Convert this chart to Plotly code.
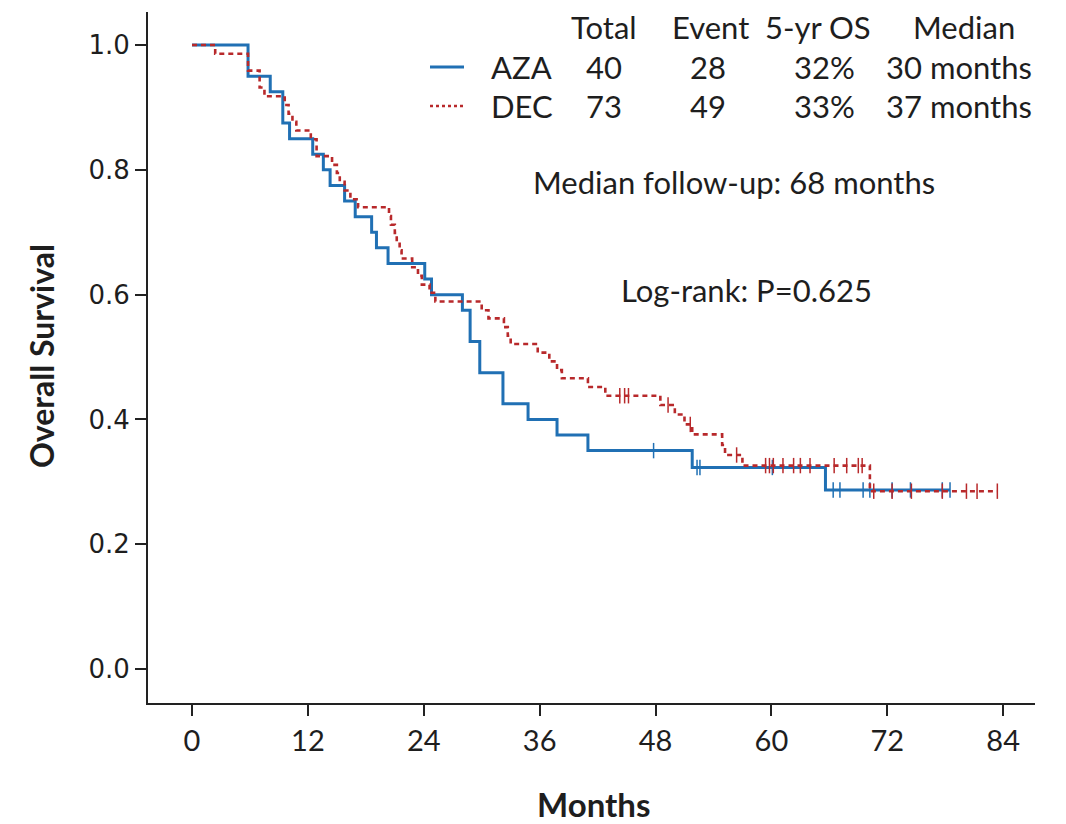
import plotly.graph_objects as go

# ---------------- data ----------------
aza_time = [0, 5.8, 8.1, 9.4, 10.1, 12.5, 13.6, 14.3, 15.8, 16.9, 18.6, 19.1, 20.3,
            24.1, 24.8, 28.0, 28.8, 29.8, 32.2, 34.8, 37.8, 41.0, 51.8, 65.6, 78.5]
aza_surv = [1.0, 0.95, 0.925, 0.875, 0.85, 0.825, 0.80, 0.775, 0.75, 0.725, 0.70, 0.675, 0.65,
            0.625, 0.60, 0.575, 0.525, 0.475, 0.425, 0.40, 0.375, 0.35, 0.323, 0.287, 0.287]
aza_cens_time = [47.8, 52.3, 52.6, 60.1, 66.4, 67.1, 69.5, 70.2, 72.5, 74.4, 77.7, 78.5]
aza_cens_surv = [0.35, 0.323, 0.323, 0.323, 0.287, 0.287, 0.287, 0.287, 0.287, 0.287, 0.287, 0.287]

dec_time = [0, 2.4, 5.8, 7.0, 7.5, 9.6, 10.0, 10.4, 10.8,
            12.3, 12.9, 14.5, 15.0, 15.3, 15.8, 16.4, 17.2,
            20.4, 20.6, 21.0, 21.2, 21.5, 21.7,
            22.8, 23.4, 23.8, 24.6, 25.2,
            30.0, 30.7, 32.3, 32.7, 33.0,
            35.8, 37.0, 37.8, 38.3, 41.0, 42.8,
            48.5, 50.0, 51.0, 51.8, 54.9, 55.2, 57.0, 70.2, 83.4]
dec_surv = [1.0, 0.986, 0.959, 0.932, 0.918, 0.904, 0.890, 0.877, 0.863,
            0.849, 0.822, 0.808, 0.795, 0.781, 0.767, 0.753, 0.740,
            0.726, 0.712, 0.699, 0.685, 0.671, 0.658,
            0.644, 0.630, 0.616, 0.603, 0.589,
            0.575, 0.562, 0.548, 0.534, 0.521,
            0.507, 0.493, 0.479, 0.466, 0.452, 0.438,
            0.423, 0.408, 0.392, 0.376, 0.359, 0.343, 0.326, 0.285, 0.285]
dec_cens_time = [44.3, 44.8, 45.2, 49.3, 51.6, 56.4,
                 59.4, 59.8, 60.2, 61.2, 62.3, 63.0, 64.0, 66.5, 67.8, 69.0, 69.4,
                 70.6, 72.5, 74.5, 77.7, 80.2, 81.3, 83.4]
dec_cens_surv = [0.438, 0.438, 0.438, 0.423, 0.392, 0.343,
                 0.326, 0.326, 0.326, 0.326, 0.326, 0.326, 0.326, 0.326, 0.326, 0.326, 0.326,
                 0.285, 0.285, 0.285, 0.285, 0.285, 0.285, 0.285]

x_ticks = [0, 12, 24, 36, 48, 60, 72, 84]
y_ticks = [0.0, 0.2, 0.4, 0.6, 0.8, 1.0]

table_header = ["Total", "Event", "5-yr OS", "Median"]
group_names = ["AZA", "DEC"]
group_total = ["40", "73"]
group_event = ["28", "49"]
group_os5 = ["32%", "33%"]
group_median = ["30 months", "37 months"]

BLUE = "#2070b4"
RED = "#b8292b"
TXT = "#1e1e1e"
FONT = "Lato"

OFF = 8  # page body margin
W, H = 1066 - OFF, 824 - OFF
L, T = 148 - OFF, 12 - OFF
R = W - (1035 - OFF)
B = H - (703 - OFF)
PW, PH = W - L - R, H - T - B


def px(xp):  # reference-picture pixel -> paper
    return (xp - OFF - L) / PW


def py(yp):
    return (H - B - (yp - OFF)) / PH


fig = go.Figure()
fig.add_trace(go.Scatter(x=aza_time, y=aza_surv, mode="lines", line_shape="hv",
                         line=dict(color=BLUE, width=3), showlegend=False))
fig.add_trace(go.Scatter(x=aza_cens_time, y=aza_cens_surv, mode="markers",
                         marker=dict(symbol="line-ns", size=11, line=dict(color=BLUE, width=1.5)),
                         showlegend=False))
fig.add_trace(go.Scatter(x=dec_time, y=dec_surv, mode="lines", line_shape="hv",
                         line=dict(color=RED, width=2.6, dash="5px,4px"), showlegend=False))
fig.add_trace(go.Scatter(x=dec_cens_time, y=dec_cens_surv, mode="markers",
                         marker=dict(symbol="line-ns", size=11, line=dict(color=RED, width=1.5)),
                         showlegend=False))

ann = []
fs = 31


def text(t, x, y, anchor="center", size=fs, angle=0):
    ann.append(dict(text=t, x=px(x), y=py(y), xref="paper", yref="paper",
                    xanchor=anchor, yanchor="middle", showarrow=False, textangle=angle,
                    font=dict(family=FONT, size=size, color=TXT)))


hdr_x = [604, 710, 818, 964]
for t, xx in zip(table_header, hdr_x):
    text(t, xx, 27)
row_y = [67, 106]
for i in range(2):
    yy = row_y[i]
    text(group_names[i], 489, yy, "left")
    text(group_total[i], 604, yy)
    text(group_event[i], 708, yy)
    text(group_os5[i], 857, yy, "right")
    text(group_median[i], 884, yy, "left")

text("Median follow-up: 68 months", 734, 182)
text("Log-rank: P=0.625", 746, 290)
text("<b>Overall Survival</b>", 41, 356, size=32, angle=-90)
text("<b>Months</b>", 593, 804, size=33)

shapes = [
    dict(type="line", xref="paper", yref="paper", x0=px(430), x1=px(464), y0=py(67), y1=py(67),
         line=dict(color=BLUE, width=3)),
    dict(type="line", xref="paper", yref="paper", x0=px(430), x1=px(464), y0=py(106), y1=py(106),
         line=dict(color=RED, width=2.6, dash="3px,3px")),
]

fig.update_layout(
    width=W, height=H,
    margin=dict(l=L, r=R, t=T, b=B, pad=0),
    paper_bgcolor="white", plot_bgcolor="white",
    annotations=ann, shapes=shapes, showlegend=False,
    xaxis=dict(range=[-4.56, 87.3], tickmode="array", tickvals=x_ticks,
               ticktext=[str(v) for v in x_ticks],
               showline=True, linecolor="#222", linewidth=2, showgrid=False, zeroline=False,
               ticks="outside", ticklen=11, tickwidth=2, tickcolor="#222",
               tickfont=dict(family=FONT, size=29, color=TXT)),
    yaxis=dict(range=[-0.0545, 1.053], tickmode="array", tickvals=y_ticks,
               ticktext=["%.1f" % v for v in y_ticks],
               showline=True, linecolor="#222", linewidth=2, showgrid=False, zeroline=False,
               ticks="outside", ticklen=11, tickwidth=2, tickcolor="#222",
               tickfont=dict(family="DejaVu Sans", size=26, color=TXT)),
)

fig.write_html("out.html")
